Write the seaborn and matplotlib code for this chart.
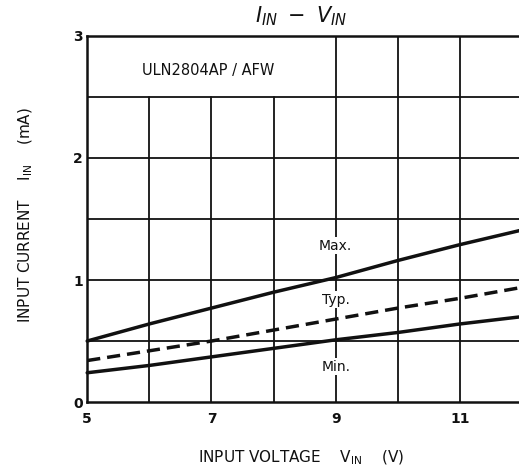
import numpy as np
import pandas as pd
import matplotlib
matplotlib.use("Agg")
import matplotlib.pyplot as plt
import seaborn as sns

# Input voltage (V) and input current (mA) for the three characteristic curves
v_in = [5, 6, 7, 8, 9, 10, 11, 12]
i_max = [0.50, 0.64, 0.77, 0.90, 1.02, 1.16, 1.29, 1.41]
i_typ = [0.34, 0.42, 0.50, 0.59, 0.68, 0.77, 0.85, 0.94]
i_min = [0.24, 0.30, 0.37, 0.44, 0.51, 0.57, 0.64, 0.70]

x_ticks = [5, 7, 9, 11]
y_ticks = [0, 1, 2, 3]

df = pd.DataFrame({
    "V": v_in * 3,
    "I": i_max + i_typ + i_min,
    "curve": ["Max."] * len(v_in) + ["Typ."] * len(v_in) + ["Min."] * len(v_in),
})

sns.set_style("white")
plt.rcParams["font.family"] = ["DejaVu Sans"]
plt.rcParams["mathtext.fontset"] = "dejavusans"

fig = plt.figure(figsize=(5.19, 4.73), dpi=100)
ax = fig.add_axes([0.168, 0.150, 0.838, 0.774])
ax.set_xlim(5, 12)
ax.set_ylim(0, 3)

ink = "#111111"
grid_lw = 1.3

# chart grid: full-height verticals on the right, shorter ones under the part-number box
for yv in [0.5, 1.0, 1.5, 2.0, 2.5]:
    ax.axhline(yv, color=ink, lw=grid_lw, zorder=1)
for xv in [6, 7, 8]:
    ax.plot([xv, xv], [0, 2.5], color=ink, lw=grid_lw, zorder=1)
for xv in [9, 10, 11]:
    ax.plot([xv, xv], [0, 3], color=ink, lw=grid_lw, zorder=1)

sns.lineplot(data=df, x="V", y="I", hue="curve", style="curve",
             palette={"Max.": ink, "Typ.": ink, "Min.": ink},
             dashes={"Max.": "", "Typ.": (3.8, 2.0), "Min.": ""},
             linewidth=2.5, legend=False, ax=ax, zorder=3)
for line in ax.lines[-3:]:
    line.set_clip_on(False)

for side in ["left", "bottom", "top"]:
    ax.spines[side].set_visible(True)
    ax.spines[side].set_color(ink)
    ax.spines[side].set_linewidth(1.8)
ax.spines["right"].set_visible(False)

ax.set_xticks(x_ticks)
ax.set_yticks(y_ticks)
ax.tick_params(axis="both", length=0, labelsize=10, colors=ink)
ax.tick_params(axis="x", pad=7)
ax.tick_params(axis="y", pad=3)
for lbl in ax.get_xticklabels() + ax.get_yticklabels():
    lbl.set_fontweight("bold")

ax.set_xlabel(r"INPUT VOLTAGE    V$_{\mathrm{IN}}$    (V)", fontsize=11, color=ink)
ax.xaxis.set_label_coords(0.493, -0.128)
ax.set_ylabel(r"INPUT CURRENT    I$_{\mathrm{IN}}$    (mA)", fontsize=11, color=ink)
ax.yaxis.set_label_coords(-0.121, 0.51)

fig.text(0.58, 0.965, r"$\mathit{I}_{\mathit{IN}}\ -\ \mathit{V}_{\mathit{IN}}$",
         ha="center", va="center", fontsize=15, color=ink)

ax.text(5.88, 2.72, "ULN2804AP / AFW", fontsize=10.5, color=ink, va="center")

box = dict(facecolor="white", edgecolor="none", pad=1.0)
ax.text(9.0, 1.28, "Max.", fontsize=10, color=ink, ha="center", va="center", bbox=box, zorder=2)
ax.text(9.0, 0.84, "Typ.", fontsize=10, color=ink, ha="center", va="center", bbox=box, zorder=2)
ax.text(9.0, 0.29, "Min.", fontsize=10, color=ink, ha="center", va="center", bbox=box, zorder=2)

fig.savefig("out.png", dpi=100)
